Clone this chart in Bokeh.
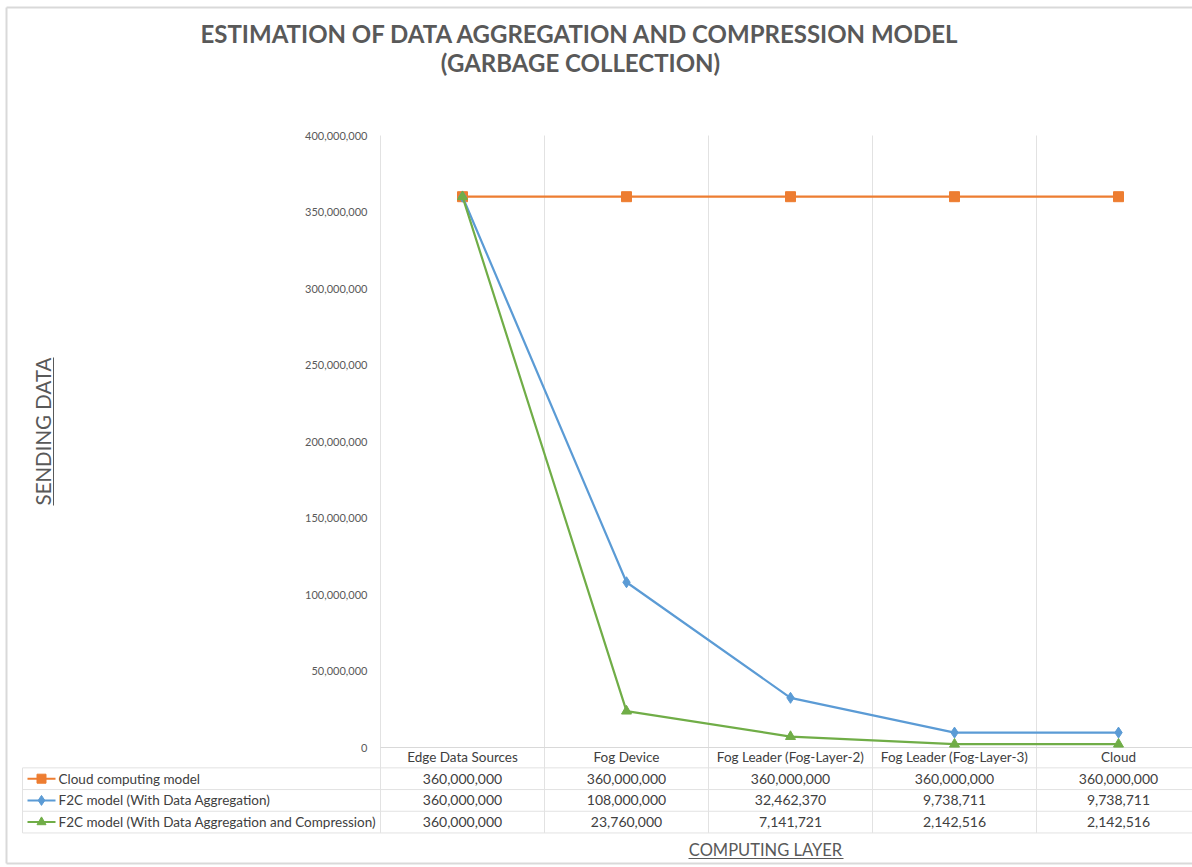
import math
from bokeh.plotting import figure
from bokeh.models import Range1d, LinearAxis, FixedTicker, NumeralTickFormatter
from bokeh.core.properties import value
from bokeh.embed import file_html
from bokeh.resources import INLINE

# ---------------- data ----------------
categories = ["Edge Data Sources", "Fog Device", "Fog Leader (Fog-Layer-2)",
              "Fog Leader (Fog-Layer-3)", "Cloud"]
series_names = ["Cloud computing model",
                "F2C model (With Data Aggregation)",
                "F2C model (With Data Aggregation and Compression)"]
cloud_model = [360000000, 360000000, 360000000, 360000000, 360000000]
f2c_aggregation = [360000000, 108000000, 32462370, 9738711, 9738711]
f2c_aggregation_compression = [360000000, 23760000, 7141721, 2142516, 2142516]
y_ticks = [0, 50000000, 100000000, 150000000, 200000000,
           250000000, 300000000, 350000000, 400000000]
title_lines = ["ESTIMATION OF DATA AGGREGATION AND COMPRESSION MODEL",
               "(GARBAGE COLLECTION)"]
x_title = "COMPUTING LAYER"
y_title = "SENDING DATA"

# ---------------- styles ----------------
FONT = "Lato"
TXT = "#595959"
TBL = "#404040"
GRID = "#e2e2e2"
colors = ["#ED7D31", "#5B9BD5", "#70AD47"]
markers = ["square", "diamond", "triangle"]
msizes = [10, 11, 10]
series = [cloud_model, f2c_aggregation, f2c_aggregation_compression]

# ---------------- geometry (page pixels) ----------------
W, H = 1192, 867
PX0, PY0 = 0, 0
X_AXIS = 380.0      # page x of category axis start
CAT_W = 164.0       # px per category
Y_ZERO = 747.0      # page y of value 0
PX_PER_UNIT = 612.0 / 400000000.0
ROW0 = 756.5        # page y of header row centre
ROW_H = 21.7

x_range = Range1d((PX0 - X_AXIS) / CAT_W, (PX0 + W - X_AXIS) / CAT_W)
y_range = Range1d(-(PY0 + H - Y_ZERO) / PX_PER_UNIT, (Y_ZERO - PY0) / PX_PER_UNIT)

p = figure(width=W, height=H, x_range=x_range, y_range=y_range,
           x_axis_type=None, y_axis_type=None, toolbar_location=None,
           output_backend="svg", min_border=0, outline_line_color=None)
p.extra_x_ranges = {"px": Range1d(PX0, PX0 + W)}
p.extra_y_ranges = {"px": Range1d(start=PY0 + H, end=PY0),
                    "table": Range1d(start=(PY0 + H - ROW0) / ROW_H,
                                     end=(PY0 - ROW0) / ROW_H)}
p.background_fill_color = "white"
p.border_fill_color = "white"

# chart-area border
p.segment(x0=[6, 6, 6], y0=[7, 7, 863], x1=[6, PX0 + W, PX0 + W], y1=[863, 7, 863],
          line_color="#d9d9d9", line_width=2, x_range_name="px", y_range_name="px")

# y axis at the category-axis origin
yaxis = LinearAxis(fixed_location=0,
                   ticker=FixedTicker(ticks=y_ticks),
                   formatter=NumeralTickFormatter(format="0,0"),
                   axis_line_color=None, major_tick_line_color=None,
                   minor_tick_line_color=None,
                   major_label_text_font=FONT,
                   major_label_text_font_size="11px",
                   major_label_text_color=TXT,
                   major_label_standoff=7)
p.add_layout(yaxis, "left")

ncat = len(categories)
bounds = list(range(ncat + 1))

# vertical category gridlines (chart part and table part)
p.segment(x0=bounds, y0=[0] * len(bounds), x1=bounds,
          y1=[y_ticks[-1]] * len(bounds), line_color=GRID, line_width=1)
p.segment(x0=bounds, y0=[-0.5] * len(bounds), x1=bounds,
          y1=[len(series) + 0.5] * len(bounds), line_color=GRID, line_width=1,
          y_range_name="table")
# baseline
p.segment(x0=[0], y0=[0], x1=[x_range.end], y1=[0], line_color="#d9d9d9", line_width=1)

# table horizontal lines & left border
hl = [r + 0.5 for r in range(len(series) + 1)]
p.segment(x0=[22] * len(hl), y0=hl, x1=[PX0 + W] * len(hl), y1=hl,
          line_color=GRID, line_width=1, x_range_name="px", y_range_name="table")
p.segment(x0=[22], y0=[0.5], x1=[22], y1=[len(series) + 0.5],
          line_color=GRID, line_width=1, x_range_name="px", y_range_name="table")

# series lines + markers
xc = [i + 0.5 for i in range(ncat)]
for s, vals in enumerate(series):
    p.line(x=xc, y=vals, line_color=colors[s], line_width=2.2)
    p.scatter(x=xc, y=vals, marker=markers[s], size=msizes[s],
              fill_color=colors[s], line_color=colors[s])

# category header row
p.text(x=xc, y=[0] * ncat, text=categories, y_range_name="table",
       text_font=value(FONT), text_font_size="13.5px", text_color=TBL,
       text_align="center", text_baseline="middle")

# table values
for s, vals in enumerate(series):
    p.text(x=xc, y=[s + 1] * ncat, text=[f"{v:,}" for v in vals],
           y_range_name="table", text_font=value(FONT), text_font_size="14px",
           text_color=TBL, text_align="center", text_baseline="middle")

# legend keys in the table
rows = [s + 1 for s in range(len(series))]
p.segment(x0=[27] * 3, y0=rows, x1=[55] * 3, y1=rows, line_color=colors,
          line_width=2, x_range_name="px", y_range_name="table")
for s in range(len(series)):
    p.scatter(x=[41], y=[rows[s]], marker=markers[s], size=msizes[s] - 1,
              fill_color=colors[s], line_color=colors[s],
              x_range_name="px", y_range_name="table")
p.text(x=[58] * 3, y=rows, text=series_names, x_range_name="px",
       y_range_name="table", text_font=value(FONT), text_font_size="13.5px",
       text_color=TBL, text_align="left", text_baseline="middle")

# titles
p.text(x=[580, 580], y=[33, 62], text=title_lines, x_range_name="px",
       y_range_name="px", text_font=value(FONT), text_font_size="24px",
       text_font_style="bold", text_color=TXT, text_align="center",
       text_baseline="middle")
p.text(x=[765], y=[849], text=[x_title], x_range_name="px", y_range_name="px",
       text_font=value(FONT), text_font_size="16.5px", text_color=TXT,
       text_align="center", text_baseline="middle")
p.segment(x0=[688], y0=[858], x1=[843], y1=[858], line_color=TXT, line_width=1,
          x_range_name="px", y_range_name="px")
p.text(x=[42], y=[431], text=[y_title], angle=math.pi / 2, x_range_name="px",
       y_range_name="px", text_font=value(FONT), text_font_size="20.5px",
       text_color=TXT, text_align="center", text_baseline="middle")
p.segment(x0=[53], y0=[357], x1=[53], y1=[505], line_color=TXT, line_width=1,
          x_range_name="px", y_range_name="px")

open("out.html", "w").write(file_html(p, INLINE))
